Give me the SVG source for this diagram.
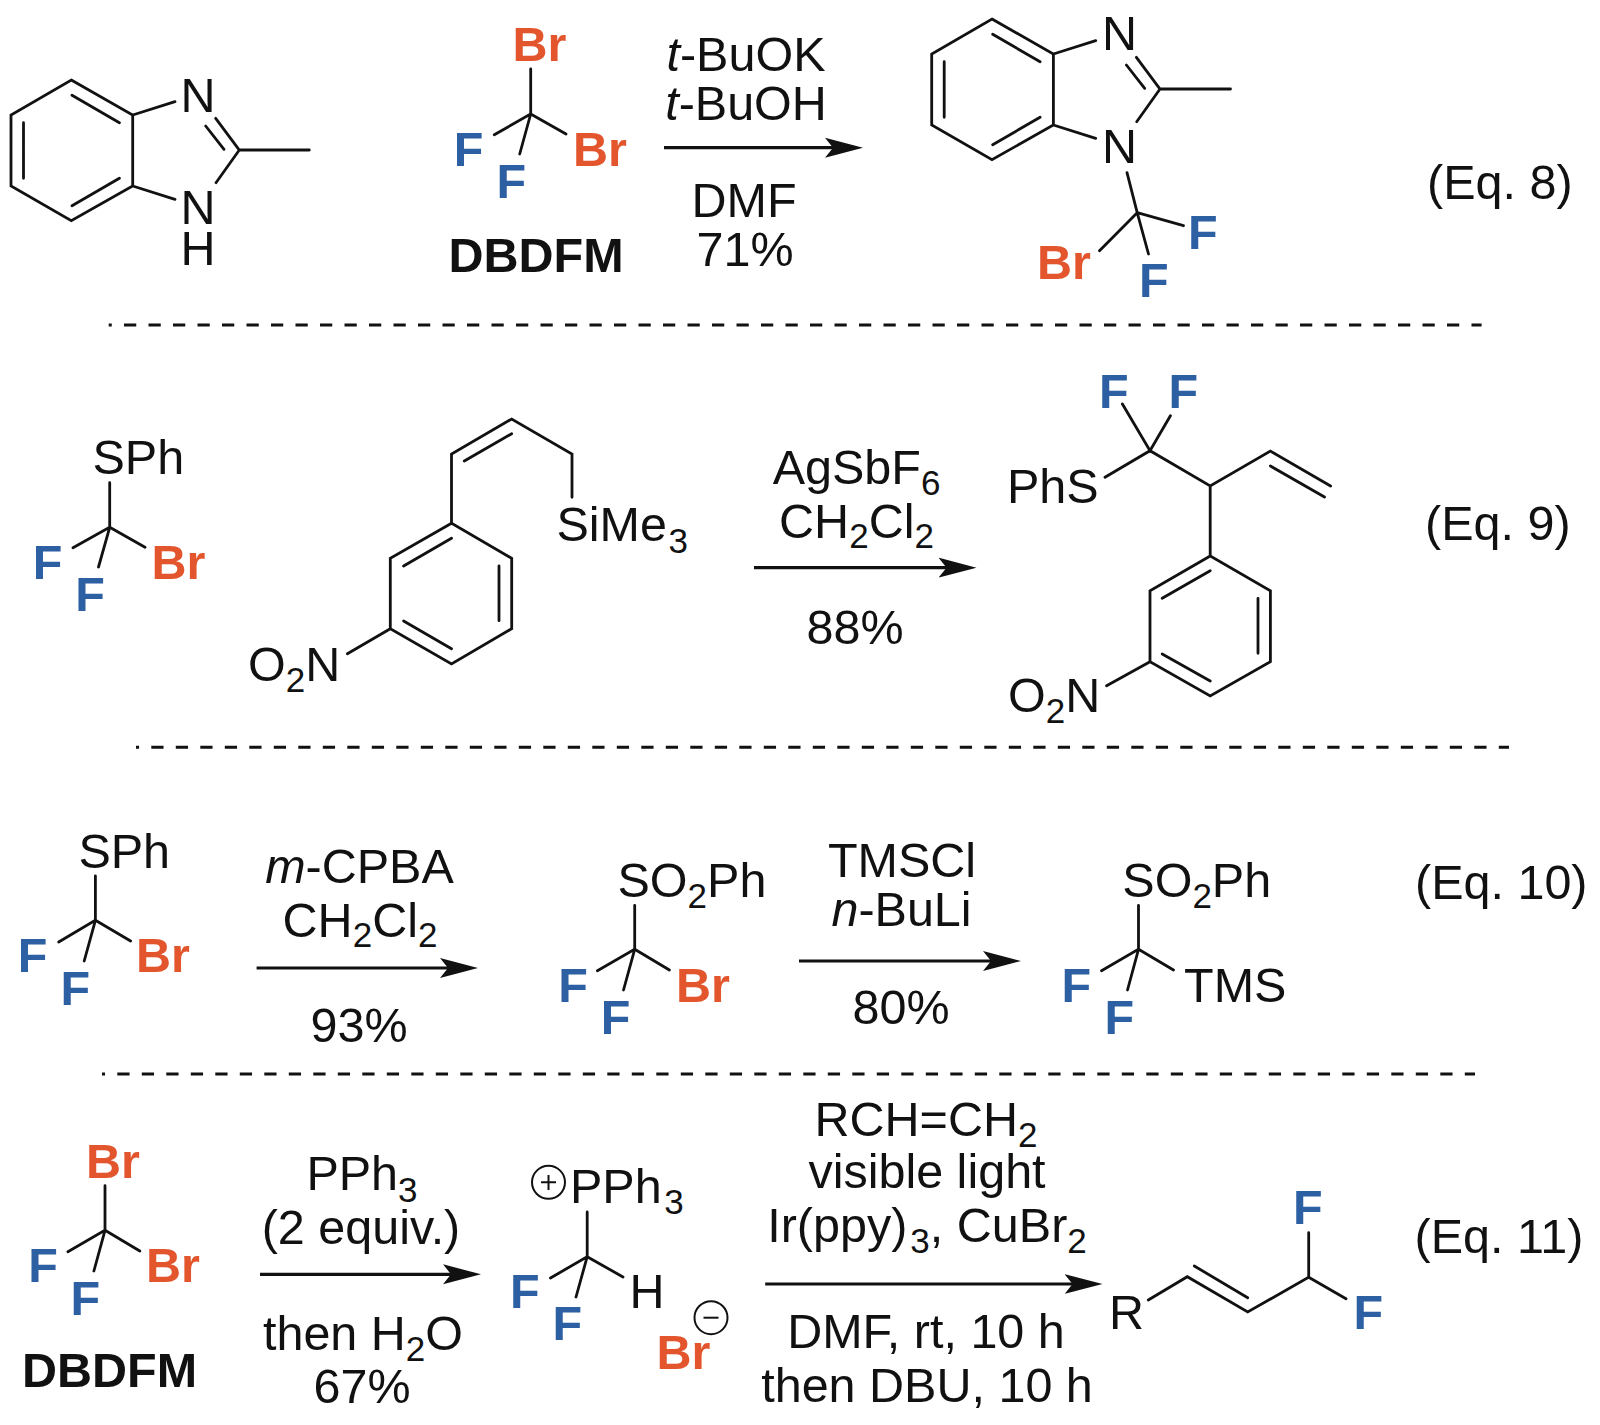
<svg xmlns="http://www.w3.org/2000/svg" width="1600" height="1425" viewBox="0 0 1600 1425">
<defs>
<style>
text{font-family:"Liberation Sans",Arial,Helvetica,sans-serif;font-size:48.5px;fill:#111}
.m{text-anchor:middle}
.br{font-weight:700;fill:#e2552d}
.f{font-weight:700;fill:#2d5fa3}
.b{font-weight:700}
.i{font-style:italic}
.s{font-size:35px}
.bond{fill:none;stroke:#111;stroke-width:2.8;stroke-linecap:round;stroke-linejoin:miter}
.arrow{fill:none;stroke:#111;stroke-width:3.2;marker-end:url(#head)}
.dash{fill:none;stroke:#111;stroke-width:3;stroke-dasharray:12.25 12.25;stroke-dashoffset:9.2}
.thin{fill:none;stroke:#111;stroke-width:2}
</style>
<marker id="head" markerUnits="userSpaceOnUse" markerWidth="40" markerHeight="24" refX="18" refY="12" orient="auto">
<path d="M0,2 L38,12 L0,22 L8,12 Z" fill="#111"/>
</marker>
</defs>
<rect width="1600" height="1425" fill="#fff"/>

<g id="connectors">
<path class="dash" d="M108.7,325H1481.6"/>
<path class="dash" d="M136,747.3H1509"/>
<path class="dash" d="M102,1074H1475"/>
<path class="arrow" d="M664,147.7H843"/>
<path class="arrow" d="M754,567.7H956.5"/>
<path class="arrow" d="M256.6,968H458"/>
<path class="arrow" d="M799,961H1001"/>
<path class="arrow" d="M260,1274.3H461"/>
<path class="arrow" d="M765.2,1284H1082.5"/>
</g>

<g id="benzimidazole">
<path class="bond" d="M71.3,80L132.7,115V186L71.3,220.7L11,186V115ZM72,95.3L119.4,122.7M23.5,122.7V178.3M72,205.7L119.4,178.3M132.7,115L175,101.7M132.7,186L175,199.3M215.7,118.3L239.3,150H309.3M205.7,126L224,149.3M239.3,150L216,182.7"/>
<text x="180.6" y="111.5">N</text>
<text x="180.6" y="224">N</text>
<text x="180.6" y="265">H</text>
</g>

<g id="dbdfm-1">
<path class="bond" d="M530.7,69V114L494.3,134.7M530.7,114L566,134M530.7,114L519.7,154"/>
<text class="br" x="512.4" y="61">Br</text>
<text class="f" x="453.7" y="165.5">F</text>
<text class="br" x="573.1" y="165.5">Br</text>
<text class="f" x="496.4" y="198.3">F</text>
<text class="b m" x="536" y="271.7">DBDFM</text>
</g>

<g id="reagents-eq8">
<text class="m" x="746" y="71"><tspan class="i">t</tspan>-BuOK</text>
<text class="m" x="746" y="120"><tspan class="i">t</tspan>-BuOH</text>
<text class="m" x="744" y="217">DMF</text>
<text class="m" x="745" y="266">71%</text>
</g>

<g id="product-eq8">
<path class="bond" d="M992,19L1053.4,54V125L992,159.7L931.7,125V54ZM992.7,34.3L1040.1,61.7M944.2,61.7V117.3M992.7,144.7L1040.1,117.3M1053.4,54L1095.7,40.7M1053.4,125L1095.7,138.3M1136.4,57.3L1160,89H1230.5M1126.4,65L1144.7,88.3M1160,89L1136.7,121.7M1127,172.7L1137.2,212.7L1183.5,225.7M1137.2,212.7L1148.5,254M1137.2,212.7L1099.5,250.7"/>
<text x="1102" y="50">N</text>
<text x="1102" y="163">N</text>
<text class="f" x="1188" y="248.7">F</text>
<text class="f" x="1139" y="297">F</text>
<text class="br" x="1037" y="279">Br</text>
</g>
<text id="eq8" x="1427" y="199">(Eq. 8)</text>

<g id="sphcf2br-1">
<path class="bond" d="M109.7,482.7V527.3L73,547.7M109.7,527.3L145,547.3M109.7,527.3L98.5,567"/>
<text x="92.5" y="474.3">SPh</text>
<text class="f" x="32.8" y="578.7">F</text>
<text class="br" x="151.6" y="578.7">Br</text>
<text class="f" x="75.2" y="611">F</text>
</g>

<g id="allylsilane">
<path class="bond" d="M572,497.3V454L511.7,419L451.5,454V523.3L511.7,558.3V628.7L451.5,664L390.3,628.7V558.3L451.5,523.3M464.3,461L511.7,433.7M451.5,538.3L403.6,566M499,566V620.7M451.5,648.7L403.6,621M390.3,628.7L347.4,653.7"/>
<text x="556.5" y="541">SiMe<tspan class="s" dy="11.7" dx="1.5">3</tspan></text>
<text x="248" y="680.7">O<tspan class="s" dy="11.3">2</tspan><tspan dy="-11.3">N</tspan></text>
</g>

<g id="reagents-eq9">
<text class="m" x="856.5" y="484">AgSbF<tspan class="s" dy="11">6</tspan></text>
<text class="m" x="856.5" y="538">CH<tspan class="s" dy="10">2</tspan><tspan dy="-10">Cl</tspan><tspan class="s" dy="10">2</tspan></text>
<text class="m" x="855" y="643.5">88%</text>
</g>

<g id="product-eq9">
<path class="bond" d="M1122.4,404L1150,450.7L1170.4,415.7M1105,477.3L1150,450.7L1210.2,486L1270.4,451L1330.6,486M1270.4,466L1324.5,497M1210.2,486V556L1270.4,590.7V661.7L1210.2,696L1150,661.7V590.7L1210.2,556M1210.2,570.7L1162.2,598.3M1258,598.3V653.3M1210.2,681L1162.2,654M1150,661.7L1106.6,685.7"/>
<text class="f" x="1099" y="408.3">F</text>
<text class="f" x="1168.5" y="408.3">F</text>
<text x="1007" y="503">PhS</text>
<text x="1008" y="712.3">O<tspan class="s" dy="11">2</tspan><tspan dy="-11">N</tspan></text>
</g>
<text id="eq9" x="1425" y="540.3">(Eq. 9)</text>

<g id="sphcf2br-2">
<path class="bond" d="M95.4,876V920.3L58.7,942M95.4,920.3L130.6,941M95.4,920.3L84.2,961"/>
<text x="78.4" y="868">SPh</text>
<text class="f" x="17.8" y="972.3">F</text>
<text class="br" x="135.9" y="972.3">Br</text>
<text class="f" x="60.4" y="1005">F</text>
</g>

<g id="reagents-eq10a">
<text class="m" x="359.5" y="883.3"><tspan class="i">m</tspan>-CPBA</text>
<text class="m" x="360" y="936.7">CH<tspan class="s" dy="10.6">2</tspan><tspan dy="-10.6">Cl</tspan><tspan class="s" dy="10.6">2</tspan></text>
<text class="m" x="359" y="1041.7">93%</text>
</g>

<g id="sulfone-br">
<path class="bond" d="M634.7,905.3V949.3L597.4,970.7M634.7,949.3L669.4,970M634.7,949.3L623.5,990"/>
<text x="617.5" y="897.3">SO<tspan class="s" dy="11">2</tspan><tspan dy="-11">Ph</tspan></text>
<text class="f" x="558.2" y="1001.7">F</text>
<text class="br" x="676" y="1001.7">Br</text>
<text class="f" x="600.8" y="1034.3">F</text>
</g>

<g id="reagents-eq10b">
<text class="m" x="902" y="877.3">TMSCl</text>
<text class="m" x="901.5" y="926"><tspan class="i">n</tspan>-BuLi</text>
<text class="m" x="901" y="1024">80%</text>
</g>

<g id="sulfone-tms">
<path class="bond" d="M1138.5,905.3V949.3L1101.5,970.7M1138.5,949.3L1173.5,970M1138.5,949.3L1127.5,990"/>
<text x="1122.3" y="897.3">SO<tspan class="s" dy="11">2</tspan><tspan dy="-11">Ph</tspan></text>
<text class="f" x="1061.5" y="1001.7">F</text>
<text class="f" x="1104.5" y="1034.3">F</text>
<text x="1184" y="1001.7">TMS</text>
</g>
<text id="eq10" x="1415" y="898.7">(Eq. 10)</text>

<g id="dbdfm-2">
<path class="bond" d="M105,1185.7V1230.3L67.9,1251.7M105,1230.3L139.8,1251M105,1230.3L93.9,1271"/>
<text class="br" x="85.9" y="1177.7">Br</text>
<text class="f" x="28.2" y="1282.3">F</text>
<text class="br" x="146.1" y="1282.3">Br</text>
<text class="f" x="70.6" y="1315">F</text>
<text class="b m" x="109.5" y="1387.3">DBDFM</text>
</g>

<g id="reagents-eq11a">
<text class="m" x="362" y="1190">PPh<tspan class="s" dy="11.7">3</tspan></text>
<text class="m" x="361" y="1244">(2 equiv.)</text>
<text class="m" x="363" y="1350">then H<tspan class="s" dy="11">2</tspan><tspan dy="-11">O</tspan></text>
<text class="m" x="362" y="1402.7">67%</text>
</g>

<g id="phosphonium">
<circle class="thin" cx="548.5" cy="1182.3" r="16.5"/>
<path class="thin" d="M541,1182.3H556M548.5,1175V1190"/>
<path class="bond" d="M587.2,1212V1256.7L550.5,1278M587.2,1256.7L623,1277M587.2,1256.7L576,1297"/>
<text x="570" y="1203.3">PPh<tspan class="s" dy="11" dx="2.5">3</tspan></text>
<text class="f" x="509.9" y="1307.7">F</text>
<text class="f" x="552.6" y="1340.3">F</text>
<text x="629.5" y="1307.7">H</text>
<text class="br" x="656.6" y="1368.7">Br</text>
<circle class="thin" cx="711" cy="1317.7" r="16.5"/>
<path class="thin" d="M703.5,1317.7H718.5"/>
</g>

<g id="reagents-eq11b">
<text class="m" x="926" y="1135.7">RCH=CH<tspan class="s" dy="11">2</tspan></text>
<text class="m" x="927" y="1188.3">visible light</text>
<text class="m" x="927" y="1241.7">Ir(ppy)<tspan class="s" dy="11.6" dx="3">3</tspan><tspan dy="-11.6">, CuBr</tspan><tspan class="s" dy="11.6">2</tspan></text>
<text class="m" x="926" y="1348.3">DMF, rt, 10 h</text>
<text class="m" x="927" y="1401.7">then DBU, 10 h</text>
</g>

<g id="product-eq11">
<path class="bond" d="M1148.3,1300L1187.3,1276.7L1247.7,1312L1308.7,1277.3V1232.7M1308.7,1277.3L1346,1298.7M1194.3,1266L1247.7,1297.7"/>
<text x="1109" y="1329.3">R</text>
<text class="f" x="1293" y="1224.3">F</text>
<text class="f" x="1353.5" y="1329.3">F</text>
</g>
<text id="eq11" x="1414.5" y="1253.3">(Eq. 11)</text>
</svg>
